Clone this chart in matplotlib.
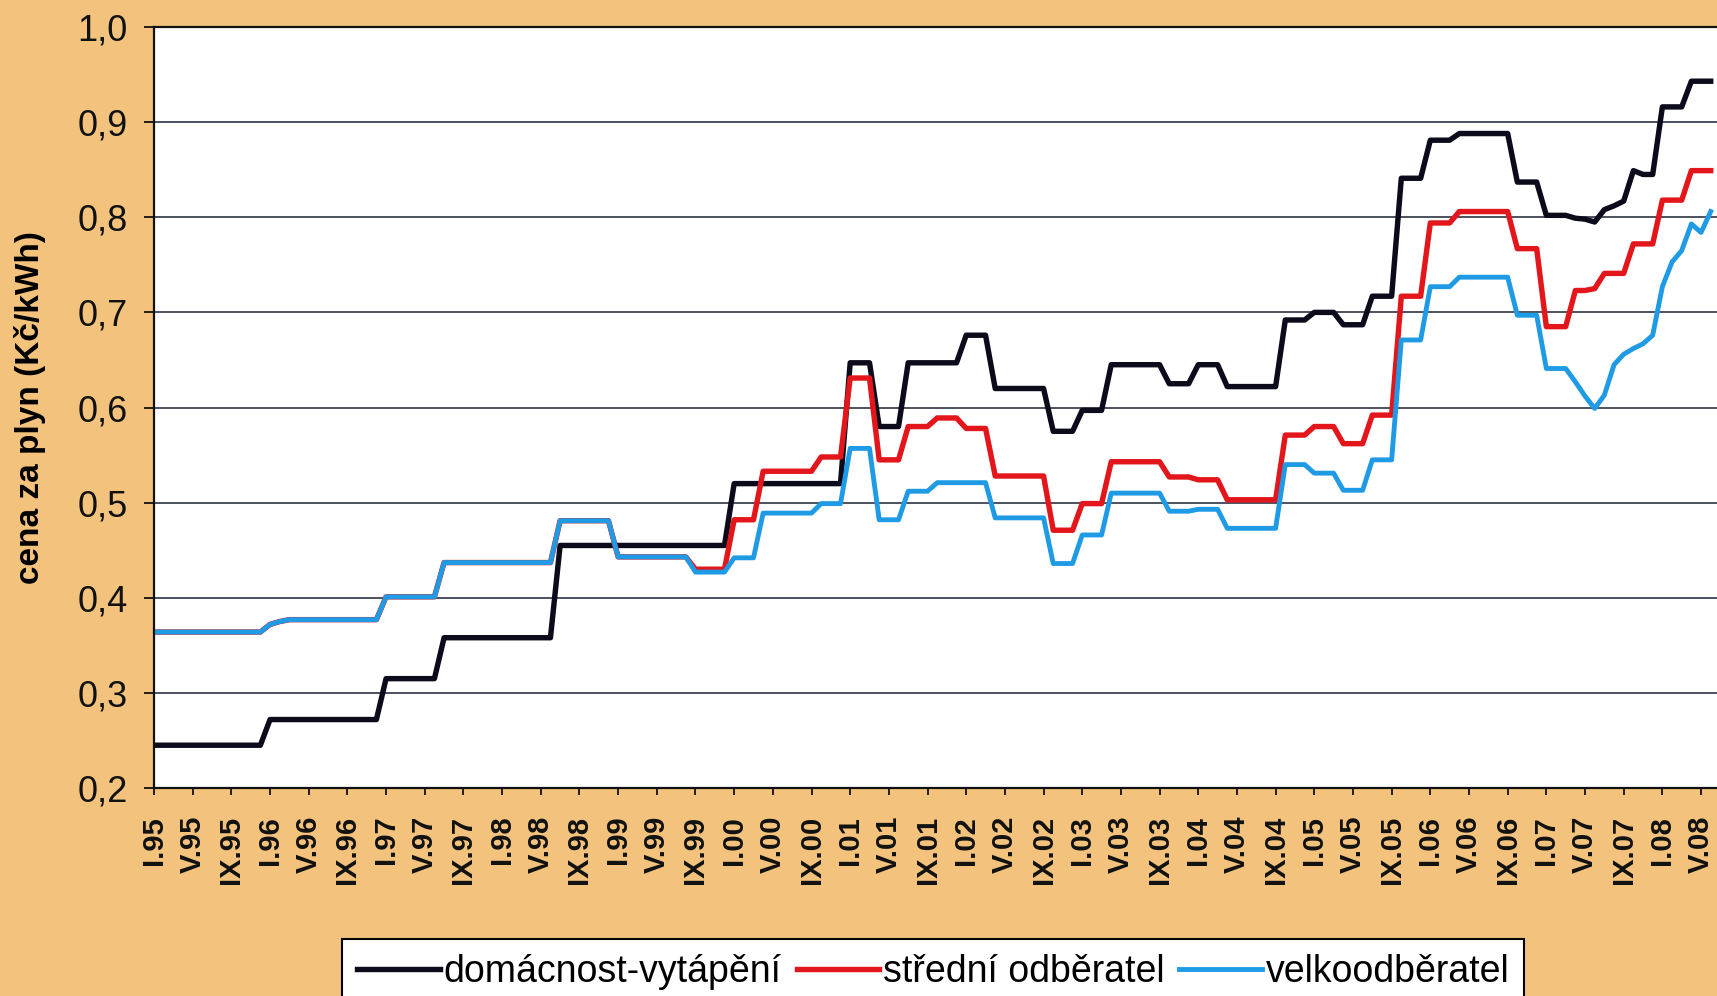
import matplotlib.pyplot as plt
import numpy as np

# tick categories: every 4th month, I.95 ... V.08
tick_months = ['I', 'V', 'IX']
tick_years = ['95', '96', '97', '98', '99', '00', '01', '02', '03', '04', '05', '06', '07', '08']
tick_labels = [m + '.' + y for y in tick_years for m in tick_months][:41]

# monthly prices (Kc/kWh), one row per year, from I.95
domacnost = [
    0.245, 0.245, 0.245, 0.245, 0.245, 0.245, 0.245, 0.245, 0.245, 0.245, 0.245, 0.245,
    0.272, 0.272, 0.272, 0.272, 0.272, 0.272, 0.272, 0.272, 0.272, 0.272, 0.272, 0.272,
    0.315, 0.315, 0.315, 0.315, 0.315, 0.315, 0.358, 0.358, 0.358, 0.358, 0.358, 0.358,
    0.358, 0.358, 0.358, 0.358, 0.358, 0.358, 0.455, 0.455, 0.455, 0.455, 0.455, 0.455,
    0.455, 0.455, 0.455, 0.455, 0.455, 0.455, 0.455, 0.455, 0.455, 0.455, 0.455, 0.455,
    0.520, 0.520, 0.520, 0.520, 0.520, 0.520, 0.520, 0.520, 0.520, 0.520, 0.520, 0.520,
    0.647, 0.647, 0.647, 0.580, 0.580, 0.580, 0.647, 0.647, 0.647, 0.647, 0.647, 0.647,
    0.676, 0.676, 0.676, 0.620, 0.620, 0.620, 0.620, 0.620, 0.620, 0.575, 0.575, 0.575,
    0.597, 0.597, 0.597, 0.645, 0.645, 0.645, 0.645, 0.645, 0.645, 0.625, 0.625, 0.625,
    0.645, 0.645, 0.645, 0.622, 0.622, 0.622, 0.622, 0.622, 0.622, 0.692, 0.692, 0.692,
    0.700, 0.700, 0.700, 0.687, 0.687, 0.687, 0.717, 0.717, 0.717, 0.841, 0.841, 0.841,
    0.881, 0.881, 0.881, 0.888, 0.888, 0.888, 0.888, 0.888, 0.888, 0.837, 0.837, 0.837,
    0.802, 0.802, 0.802, 0.799, 0.798, 0.795, 0.808, 0.812, 0.817, 0.849, 0.845, 0.845,
    0.916, 0.916, 0.916, 0.943, 0.943, 0.943,
]
stredni = [
    0.364, 0.364, 0.364, 0.364, 0.364, 0.364, 0.364, 0.364, 0.364, 0.364, 0.364, 0.364,
    0.372, 0.375, 0.377, 0.377, 0.377, 0.377, 0.377, 0.377, 0.377, 0.377, 0.377, 0.377,
    0.401, 0.401, 0.401, 0.401, 0.401, 0.401, 0.437, 0.437, 0.437, 0.437, 0.437, 0.437,
    0.437, 0.437, 0.437, 0.437, 0.437, 0.437, 0.481, 0.481, 0.481, 0.481, 0.481, 0.481,
    0.443, 0.443, 0.443, 0.443, 0.443, 0.443, 0.443, 0.443, 0.430, 0.430, 0.430, 0.430,
    0.482, 0.482, 0.482, 0.533, 0.533, 0.533, 0.533, 0.533, 0.533, 0.548, 0.548, 0.548,
    0.631, 0.631, 0.631, 0.545, 0.545, 0.545, 0.580, 0.580, 0.580, 0.589, 0.589, 0.589,
    0.578, 0.578, 0.578, 0.528, 0.528, 0.528, 0.528, 0.528, 0.528, 0.471, 0.471, 0.471,
    0.499, 0.499, 0.499, 0.543, 0.543, 0.543, 0.543, 0.543, 0.543, 0.527, 0.527, 0.527,
    0.524, 0.524, 0.524, 0.503, 0.503, 0.503, 0.503, 0.503, 0.503, 0.571, 0.571, 0.571,
    0.580, 0.580, 0.580, 0.562, 0.562, 0.562, 0.592, 0.592, 0.592, 0.717, 0.717, 0.717,
    0.794, 0.794, 0.794, 0.806, 0.806, 0.806, 0.806, 0.806, 0.806, 0.767, 0.767, 0.767,
    0.685, 0.685, 0.685, 0.723, 0.723, 0.725, 0.741, 0.741, 0.741, 0.772, 0.772, 0.772,
    0.818, 0.818, 0.818, 0.849, 0.849, 0.849,
]
velko = [
    0.364, 0.364, 0.364, 0.364, 0.364, 0.364, 0.364, 0.364, 0.364, 0.364, 0.364, 0.364,
    0.372, 0.375, 0.377, 0.377, 0.377, 0.377, 0.377, 0.377, 0.377, 0.377, 0.377, 0.377,
    0.401, 0.401, 0.401, 0.401, 0.401, 0.401, 0.437, 0.437, 0.437, 0.437, 0.437, 0.437,
    0.437, 0.437, 0.437, 0.437, 0.437, 0.437, 0.481, 0.481, 0.481, 0.481, 0.481, 0.481,
    0.443, 0.443, 0.443, 0.443, 0.443, 0.443, 0.443, 0.443, 0.427, 0.427, 0.427, 0.427,
    0.442, 0.442, 0.442, 0.489, 0.489, 0.489, 0.489, 0.489, 0.489, 0.499, 0.499, 0.499,
    0.557, 0.557, 0.557, 0.482, 0.482, 0.482, 0.512, 0.512, 0.512, 0.521, 0.521, 0.521,
    0.521, 0.521, 0.521, 0.484, 0.484, 0.484, 0.484, 0.484, 0.484, 0.436, 0.436, 0.436,
    0.466, 0.466, 0.466, 0.510, 0.510, 0.510, 0.510, 0.510, 0.510, 0.491, 0.491, 0.491,
    0.493, 0.493, 0.493, 0.473, 0.473, 0.473, 0.473, 0.473, 0.473, 0.540, 0.540, 0.540,
    0.531, 0.531, 0.531, 0.513, 0.513, 0.513, 0.545, 0.545, 0.545, 0.671, 0.671, 0.671,
    0.727, 0.727, 0.727, 0.737, 0.737, 0.737, 0.737, 0.737, 0.737, 0.697, 0.697, 0.697,
    0.641, 0.641, 0.641, 0.627, 0.612, 0.599, 0.613, 0.645, 0.656, 0.662, 0.667, 0.676,
    0.727, 0.753, 0.765, 0.793, 0.784, 0.806,
]
series_names = ['domácnost-vytápění', 'střední odběratel', 'velkoodběratel']

plt.rcParams['font.family'] = ['Liberation Sans', 'DejaVu Sans']

bg = '#F3C37D'
fig = plt.figure(figsize=(17.17, 9.96), dpi=100, facecolor=bg)
ax = fig.add_axes([0.0897, 0.2088, 0.9103, 0.7641])
ax.set_facecolor('white')

x = np.arange(len(domacnost))
ax.plot(x, domacnost, color='#0b0b1c', lw=3.9, label=series_names[0])
ax.plot(x, stredni, color='#e3161b', lw=3.9, label=series_names[1])
ax.plot(x, velko, color='#1f9be6', lw=3.5, label=series_names[2])

ax.set_xlim(0, 161.65)
ax.set_ylim(0.2, 1.0)

yt = np.arange(0.2, 1.01, 0.1)
ax.set_yticks(yt)
ax.set_yticklabels([('%.1f' % v).replace('.', ',') for v in yt], fontsize=26)
ax.set_xticks(np.arange(0, 161, 4))
ax.set_xticklabels(tick_labels, rotation=90, fontsize=21, fontweight='bold')

ax.yaxis.grid(True, color='#1c2233', lw=1.1)
ax.set_axisbelow(True)
for s in ['left', 'bottom', 'top']:
    ax.spines[s].set_color('#111111')
    ax.spines[s].set_linewidth(1.6)
ax.spines['right'].set_visible(False)

ax.tick_params(axis='y', direction='out', length=7, width=1.3, pad=12, colors='#111111')
ax.tick_params(axis='x', direction='out', length=5, width=1.3, pad=15, colors='#111111')

ax.set_ylabel('cena za plyn (Kč/kWh)', fontsize=24, fontweight='bold')
ax.yaxis.set_label_coords(-0.069, 0.5)

leg = fig.legend(loc='upper center', bbox_to_anchor=(0.5436, 0.0572), ncol=3,
                 fontsize=27, frameon=True, fancybox=False, edgecolor='black',
                 facecolor='white', framealpha=1, handlelength=2.2,
                 handletextpad=0.1, columnspacing=0.4, borderpad=0.4,
                 borderaxespad=0)
leg.get_frame().set_linewidth(1.5)

fig.savefig('out.png', dpi=100, facecolor=bg)
